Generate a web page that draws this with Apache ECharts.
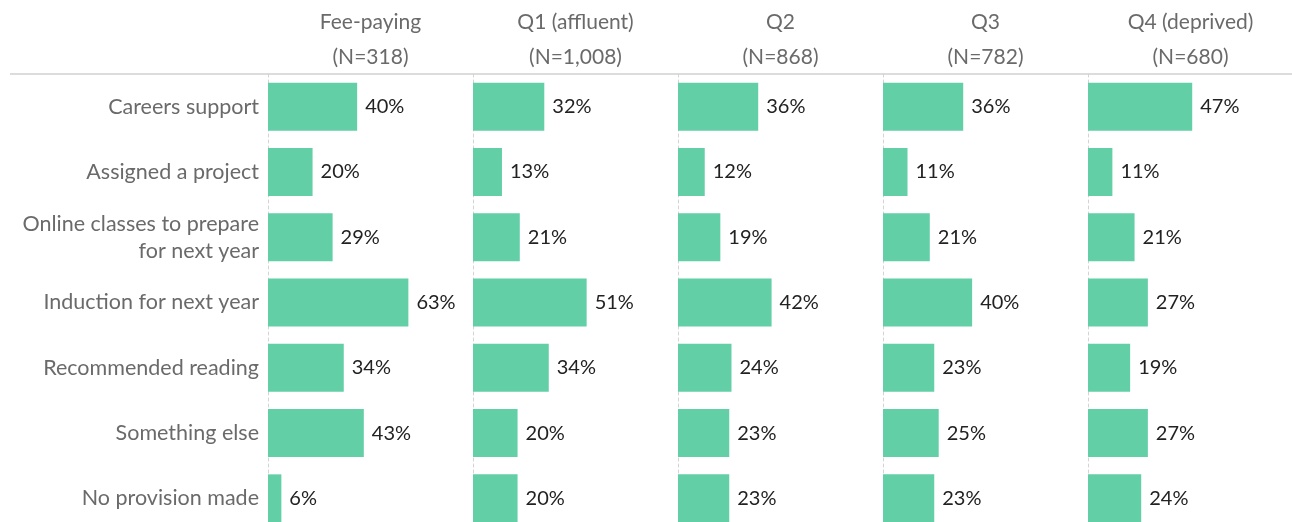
<!DOCTYPE html>
<html>
<head>
<meta charset="utf-8">
<script src="https://cdn.jsdelivr.net/npm/echarts@6/dist/echarts.min.js"></script>
<style>
  html, body { margin: 0; padding: 0; background: #fff; overflow: hidden; }
  #chart { width: 1292px; height: 531px; }
</style>
</head>
<body>
<div id="chart"></div>
<script>
// data
var categories = [
  'Careers support',
  'Assigned a project',
  'Online classes to prepare\nfor next year',
  'Induction for next year',
  'Recommended reading',
  'Something else',
  'No provision made'
];
var groups = ['Fee-paying', 'Q1 (affluent)', 'Q2', 'Q3', 'Q4 (deprived)'];
var groupN = ['(N=318)', '(N=1,008)', '(N=868)', '(N=782)', '(N=680)'];
var feePaying = [40, 20, 29, 63, 34, 43, 6];
var q1 = [32, 13, 21, 51, 34, 20, 20];
var q2 = [36, 12, 19, 42, 24, 23, 23];
var q3 = [36, 11, 21, 40, 23, 25, 23];
var q4 = [47, 11, 21, 27, 19, 27, 24];
var seriesData = [feePaying, q1, q2, q3, q4];

// the plot runs past the bottom edge of the window, as in the original crop
var chart = echarts.init(document.getElementById('chart'));

var panelLeft = 268, panelW = 205, gridTop = 74, gridH = 457;
var font = 'Lato, "Open Sans", sans-serif';

var grids = [], xAxes = [], yAxes = [], series = [], titles = [];
for (var i = 0; i < groups.length; i++) {
  var left = panelLeft + i * panelW;
  grids.push({ left: left, top: gridTop, width: panelW, height: gridH });
  xAxes.push({
    gridIndex: i, type: 'value', min: 0, max: 92, show: false
  });
  yAxes.push({
    gridIndex: i, type: 'category', data: categories, inverse: true,
    axisLine: { show: true, lineStyle: { color: '#d4d4d4', type: [3, 3], width: 1 } },
    axisTick: { show: false },
    axisLabel: {
      show: i === 0, color: '#6a6a6a', fontSize: 21.5, fontFamily: font,
      margin: 9, lineHeight: 27
    }
  });
  series.push({
    type: 'bar', xAxisIndex: i, yAxisIndex: i, data: seriesData[i],
    barWidth: 48,
    itemStyle: { color: '#63cfa7' },
    label: {
      show: true, position: 'right', distance: 8,
      formatter: '{c}%', color: '#222', fontSize: 20, fontFamily: font
    },
    silent: true
  });
  titles.push({
    text: groups[i] + '\n' + groupN[i],
    left: left + panelW / 2, top: 5, textAlign: 'center', padding: 0,
    textStyle: { color: '#6a6a6a', fontSize: 21, fontWeight: 'normal', fontFamily: font, lineHeight: 35 }
  });
}

chart.setOption({
  animation: false,
  title: titles,
  grid: grids,
  xAxis: xAxes,
  yAxis: yAxes,
  series: series,
  graphic: [{
    type: 'line', shape: { x1: 10, y1: 74, x2: 1292, y2: 74 },
    style: { stroke: '#dcdcdc', lineWidth: 2 }, z: 0
  }]
});
</script>
</body>
</html>
